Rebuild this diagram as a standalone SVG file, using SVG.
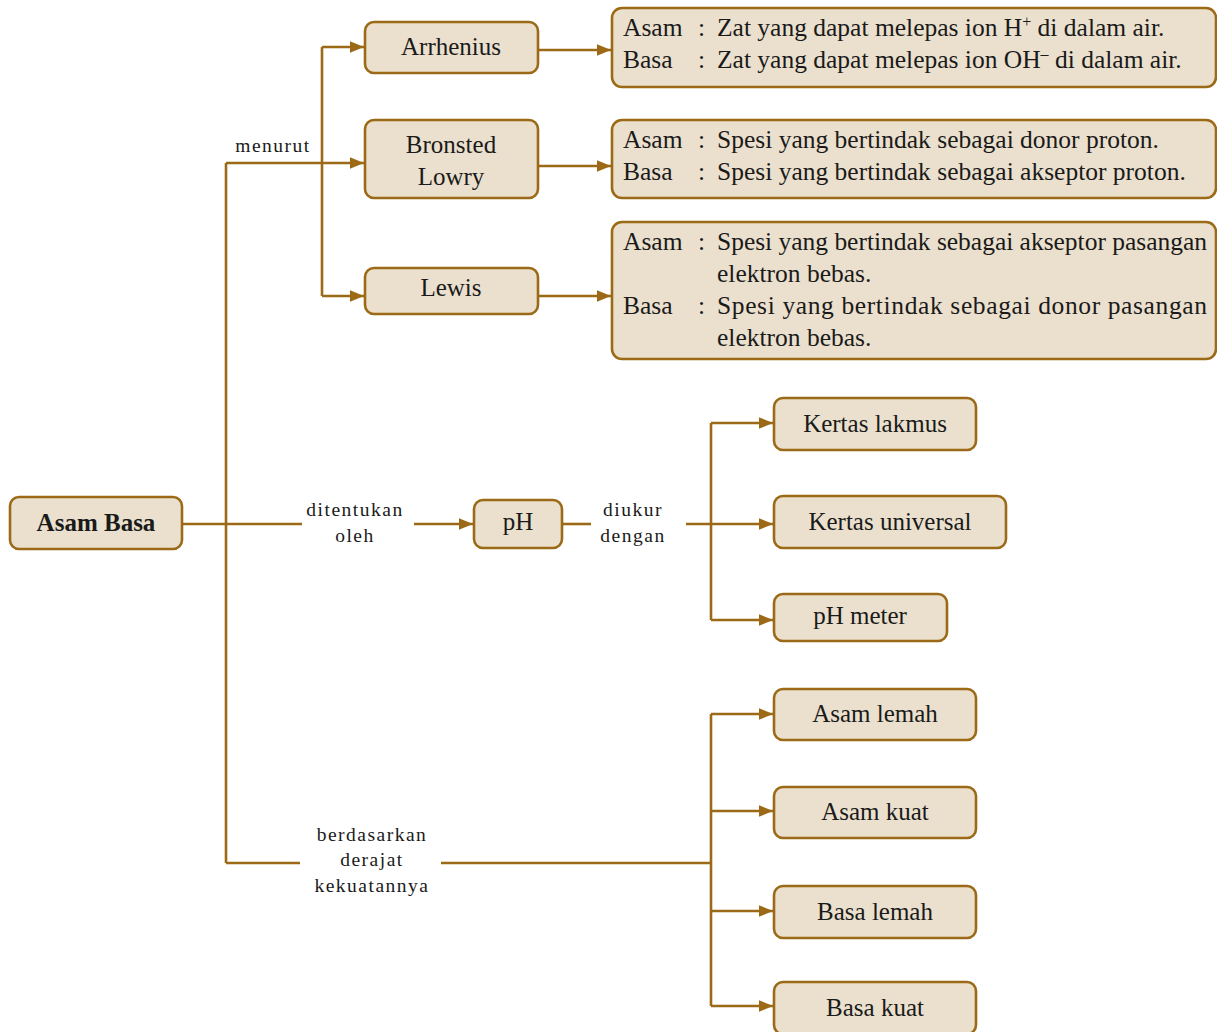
<svg xmlns="http://www.w3.org/2000/svg" width="1217" height="1032" viewBox="0 0 1217 1032">
<defs>
<marker id="arr" markerUnits="userSpaceOnUse" markerWidth="14" markerHeight="14" viewBox="0 0 12 12" refX="12" refY="6" orient="auto">
<path d="M0,1 L12,6 L0,11 Z" fill="#9c6a17"/>
</marker>
<style>
.box{fill:#ebe0cd;stroke:#9c6a17;stroke-width:2.6}
.ln{fill:none;stroke:#9c6a17;stroke-width:2.6}
.ar{marker-end:url(#arr)}
.t{font-family:"Liberation Serif","Times New Roman",serif;font-size:25px;fill:#1a1a1a;text-anchor:middle}
.d{font-family:"Liberation Serif","Times New Roman",serif;font-size:25.5px;fill:#1a1a1a}
.lb{font-family:"Liberation Serif","Times New Roman",serif;font-size:19.5px;fill:#1a1a1a;text-anchor:middle;letter-spacing:1.5px}
</style>
</defs>
<g id="connectors">
<path class="ln" d="M182,524 H302"/>
<path class="ln" d="M226,163 V863"/>
<path class="ln ar" d="M226,163 H364"/>
<path class="ln" d="M322,47 V296"/>
<path class="ln ar" d="M322,47 H364"/>
<path class="ln ar" d="M322,296 H364"/>
<path class="ln ar" d="M538,50 H611"/>
<path class="ln ar" d="M538,166 H611"/>
<path class="ln ar" d="M538,296 H611"/>
<path class="ln ar" d="M414,524 H473"/>
<path class="ln" d="M562,524 H591"/>
<path class="ln ar" d="M686,524 H773"/>
<path class="ln" d="M711,423 V620"/>
<path class="ln ar" d="M711,423 H773"/>
<path class="ln ar" d="M711,620 H773"/>
<path class="ln" d="M226,863 H300"/>
<path class="ln" d="M441,863 H711"/>
<path class="ln" d="M711,714 V1006"/>
<path class="ln ar" d="M711,714 H773"/>
<path class="ln ar" d="M711,811 H773"/>
<path class="ln ar" d="M711,911 H773"/>
<path class="ln ar" d="M711,1006 H773"/>
</g>
<g id="labels">
<text class="lb" x="273" y="152">menurut</text>
<text class="lb" x="355" y="516">ditentukan</text>
<text class="lb" x="355" y="542">oleh</text>
<text class="lb" x="633" y="516">diukur</text>
<text class="lb" x="633" y="542">dengan</text>
<text class="lb" x="372" y="841">berdasarkan</text>
<text class="lb" x="372" y="866">derajat</text>
<text class="lb" x="372" y="892">kekuatannya</text>
</g>
<g id="asam-basa">
<rect class="box" x="10" y="497" width="172" height="52" rx="9"/>
<text class="t" x="96" y="531" font-weight="bold" font-size="24">Asam Basa</text>
</g>
<g id="arrhenius">
<rect class="box" x="365" y="22" width="173" height="51" rx="9"/>
<text class="t" x="451" y="55">Arrhenius</text>
</g>
<g id="bronsted">
<rect class="box" x="365" y="120" width="173" height="78" rx="9"/>
<text class="t" x="451" y="153">Bronsted</text>
<text class="t" x="451" y="185">Lowry</text>
</g>
<g id="lewis">
<rect class="box" x="365" y="268" width="173" height="46" rx="9"/>
<text class="t" x="451" y="296">Lewis</text>
</g>
<g id="def-arrhenius">
<rect class="box" x="612" y="8" width="604" height="79" rx="10"/>
<text class="d" x="623" y="36">Asam</text><text class="d" x="698" y="36">:</text>
<text class="d" x="717" y="36">Zat yang dapat melepas ion H<tspan font-size="16" dy="-9">+</tspan><tspan dy="9"> di dalam air.</tspan></text>
<text class="d" x="623" y="68">Basa</text><text class="d" x="698" y="68">:</text>
<text class="d" x="717" y="68">Zat yang dapat melepas ion OH<tspan font-size="16" dy="-9">–</tspan><tspan dy="9"> di dalam air.</tspan></text>
</g>
<g id="def-bronsted">
<rect class="box" x="612" y="120" width="604" height="78" rx="10"/>
<text class="d" x="623" y="148">Asam</text><text class="d" x="698" y="148">:</text>
<text class="d" x="717" y="148">Spesi yang bertindak sebagai donor proton.</text>
<text class="d" x="623" y="180">Basa</text><text class="d" x="698" y="180">:</text>
<text class="d" x="717" y="180">Spesi yang bertindak sebagai akseptor proton.</text>
</g>
<g id="def-lewis">
<rect class="box" x="612" y="222" width="604" height="137" rx="10"/>
<text class="d" x="623" y="250">Asam</text><text class="d" x="698" y="250">:</text>
<text class="d" x="717" y="250" textLength="490" lengthAdjust="spacing">Spesi yang bertindak sebagai akseptor pasangan</text>
<text class="d" x="717" y="282">elektron bebas.</text>
<text class="d" x="623" y="314">Basa</text><text class="d" x="698" y="314">:</text>
<text class="d" x="717" y="314" textLength="490" lengthAdjust="spacing">Spesi yang bertindak sebagai donor pasangan</text>
<text class="d" x="717" y="346">elektron bebas.</text>
</g>
<g id="ph">
<rect class="box" x="474" y="500" width="88" height="48" rx="9"/>
<text class="t" x="518" y="530">pH</text>
</g>
<g id="kertas-lakmus">
<rect class="box" x="774" y="398" width="202" height="52" rx="9"/>
<text class="t" x="875" y="432">Kertas lakmus</text>
</g>
<g id="kertas-universal">
<rect class="box" x="774" y="496" width="232" height="52" rx="9"/>
<text class="t" x="890" y="530">Kertas universal</text>
</g>
<g id="ph-meter">
<rect class="box" x="774" y="594" width="173" height="47" rx="9"/>
<text class="t" x="860" y="624">pH meter</text>
</g>
<g id="asam-lemah">
<rect class="box" x="774" y="689" width="202" height="51" rx="9"/>
<text class="t" x="875" y="722">Asam lemah</text>
</g>
<g id="asam-kuat">
<rect class="box" x="774" y="787" width="202" height="51" rx="9"/>
<text class="t" x="875" y="820">Asam kuat</text>
</g>
<g id="basa-lemah">
<rect class="box" x="774" y="886" width="202" height="52" rx="9"/>
<text class="t" x="875" y="920">Basa lemah</text>
</g>
<g id="basa-kuat">
<rect class="box" x="774" y="982" width="202" height="52" rx="9"/>
<text class="t" x="875" y="1016">Basa kuat</text>
</g>
</svg>
